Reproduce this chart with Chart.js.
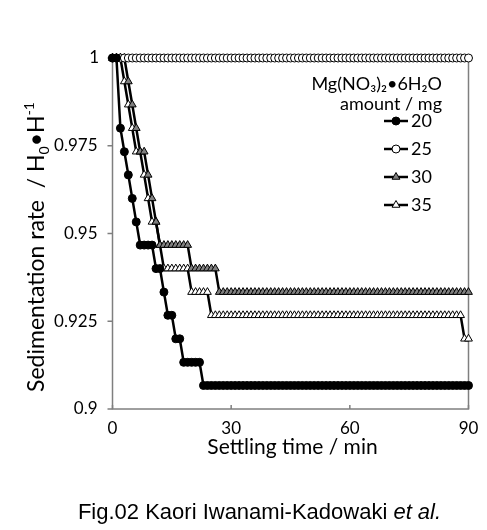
<!DOCTYPE html>
<html lang="en">
<head>
<meta charset="UTF-8">
<title>Sedimentation rate</title>
<script src="https://cdn.jsdelivr.net/npm/chart.js"></script>
<style>
  body { margin: 0; background: #fff; }
  .wrap { position: relative; width: 487px; height: 530px; }
  #caption {
    position: absolute; left: 0; width: 519px; top: 499px;
    text-align: center; color: #000;
    font: 22px "Liberation Sans", Arial, sans-serif;
  }
</style>
</head>
<body>
<div class="wrap">
  <canvas id="chart" width="487" height="530"></canvas>
  <div id="caption">Fig.02 Kaori Iwanami-Kadowaki <i>et al.</i></div>
</div>
<script>
// settling time (min), one reading per minute
const times = [
  0, 1, 2, 3, 4, 5, 6, 7, 8, 9,
  10, 11, 12, 13, 14, 15, 16, 17, 18, 19,
  20, 21, 22, 23, 24, 25, 26, 27, 28, 29,
  30, 31, 32, 33, 34, 35, 36, 37, 38, 39,
  40, 41, 42, 43, 44, 45, 46, 47, 48, 49,
  50, 51, 52, 53, 54, 55, 56, 57, 58, 59,
  60, 61, 62, 63, 64, 65, 66, 67, 68, 69,
  70, 71, 72, 73, 74, 75, 76, 77, 78, 79,
  80, 81, 82, 83, 84, 85, 86, 87, 88, 89,
  90
];

const seriesLabels = ['20', '25', '30', '35'];

const rate20 = [
  1, 1, .98, .9733, .9667, .96, .9533, .9467, .9467, .9467,
  .9467, .94, .94, .9333, .9267, .9267, .92, .92, .9133, .9133,
  .9133, .9133, .9133, .9067, .9067, .9067, .9067, .9067, .9067, .9067,
  .9067, .9067, .9067, .9067, .9067, .9067, .9067, .9067, .9067, .9067,
  .9067, .9067, .9067, .9067, .9067, .9067, .9067, .9067, .9067, .9067,
  .9067, .9067, .9067, .9067, .9067, .9067, .9067, .9067, .9067, .9067,
  .9067, .9067, .9067, .9067, .9067, .9067, .9067, .9067, .9067, .9067,
  .9067, .9067, .9067, .9067, .9067, .9067, .9067, .9067, .9067, .9067,
  .9067, .9067, .9067, .9067, .9067, .9067, .9067, .9067, .9067, .9067,
  .9067
];

const rate25 = [
  1, 1, 1, 1, 1, 1, 1, 1, 1, 1,
  1, 1, 1, 1, 1, 1, 1, 1, 1, 1,
  1, 1, 1, 1, 1, 1, 1, 1, 1, 1,
  1, 1, 1, 1, 1, 1, 1, 1, 1, 1,
  1, 1, 1, 1, 1, 1, 1, 1, 1, 1,
  1, 1, 1, 1, 1, 1, 1, 1, 1, 1,
  1, 1, 1, 1, 1, 1, 1, 1, 1, 1,
  1, 1, 1, 1, 1, 1, 1, 1, 1, 1,
  1, 1, 1, 1, 1, 1, 1, 1, 1, 1,
  1
];

const rate30 = [
  1, 1, 1, 1, .9933, .9867, .98, .9733, .9733, .9667,
  .96, .9533, .9467, .9467, .9467, .9467, .9467, .9467, .9467, .9467,
  .94, .94, .94, .94, .94, .94, .94, .9333, .9333, .9333,
  .9333, .9333, .9333, .9333, .9333, .9333, .9333, .9333, .9333, .9333,
  .9333, .9333, .9333, .9333, .9333, .9333, .9333, .9333, .9333, .9333,
  .9333, .9333, .9333, .9333, .9333, .9333, .9333, .9333, .9333, .9333,
  .9333, .9333, .9333, .9333, .9333, .9333, .9333, .9333, .9333, .9333,
  .9333, .9333, .9333, .9333, .9333, .9333, .9333, .9333, .9333, .9333,
  .9333, .9333, .9333, .9333, .9333, .9333, .9333, .9333, .9333, .9333,
  .9333
];

const rate35 = [
  1, 1, 1, .9933, .9867, .98, .9733, .9733, .9667, .96,
  .9533, .9533, .9467, .94, .94, .94, .94, .94, .94, .94,
  .9333, .9333, .9333, .9333, .9333, .9267, .9267, .9267, .9267, .9267,
  .9267, .9267, .9267, .9267, .9267, .9267, .9267, .9267, .9267, .9267,
  .9267, .9267, .9267, .9267, .9267, .9267, .9267, .9267, .9267, .9267,
  .9267, .9267, .9267, .9267, .9267, .9267, .9267, .9267, .9267, .9267,
  .9267, .9267, .9267, .9267, .9267, .9267, .9267, .9267, .9267, .9267,
  .9267, .9267, .9267, .9267, .9267, .9267, .9267, .9267, .9267, .9267,
  .9267, .9267, .9267, .9267, .9267, .9267, .9267, .9267, .9267, .92,
  .92
];

const xTicks = [0, 30, 60, 90];
const yTicks = [0.9, 0.925, 0.95, 0.975, 1];

const FONT = 'Lato, "Open Sans", sans-serif';

function pts(vals) {
  return vals.map((v, i) => ({ x: times[i], y: v }));
}

function series(label, vals, style, fill) {
  return {
    label: label,
    data: pts(vals),
    borderColor: '#000',
    borderWidth: 2.5,
    pointStyle: style,
    pointRadius: style === 'triangle' ? 4.5 : 4,
    pointBackgroundColor: fill,
    pointBorderColor: '#000',
    pointBorderWidth: 1,
    clip: false
  };
}

// gray frame + short tick marks
const frame = {
  id: 'frame',
  beforeDatasetsDraw(chart) {
    const { ctx, chartArea: a, scales: { x, y } } = chart;
    ctx.save();
    ctx.strokeStyle = '#7f7f7f';
    ctx.lineWidth = 1.5;
    ctx.strokeRect(a.left, a.top, a.right - a.left, a.bottom - a.top);
    ctx.beginPath();
    xTicks.forEach(v => {
      const px = x.getPixelForValue(v);
      ctx.moveTo(px, a.bottom);
      ctx.lineTo(px, a.bottom - 4);
    });
    yTicks.forEach(v => {
      const py = y.getPixelForValue(v);
      ctx.moveTo(a.left - 5, py);
      ctx.lineTo(a.left, py);
    });
    ctx.stroke();
    ctx.restore();
  }
};

// y title with sub/superscript, x title, the lone "1" tick label
const titles = {
  id: 'titles',
  afterDraw(chart) {
    const { ctx, chartArea: a, scales: { y } } = chart;
    ctx.save();
    ctx.fillStyle = '#000';
    ctx.textBaseline = 'middle';

    ctx.textAlign = 'right';
    ctx.font = '17px ' + FONT;
    ctx.fillText('1', 99, y.getPixelForValue(1));

    ctx.textAlign = 'center';
    ctx.font = '21px ' + FONT;
    ctx.fillText('Settling time / min', (a.left + a.right) / 2 + 2, 447);

    const parts = [
      { t: 'Sedimentation rate  / H', size: 23, dy: 0 },
      { t: '0', size: 14, dy: 7 },
      { t: '\u2022H', size: 23, dy: 0 },
      { t: '-1', size: 14, dy: -8 }
    ];
    let total = 0;
    parts.forEach(p => { ctx.font = p.size + 'px ' + FONT; p.w = ctx.measureText(p.t).width; total += p.w; });
    ctx.translate(37, 247);
    ctx.rotate(-Math.PI / 2);
    ctx.textAlign = 'left';
    let cx = -total / 2;
    parts.forEach(p => {
      ctx.font = p.size + 'px ' + FONT;
      ctx.fillText(p.t, cx, p.dy);
      cx += p.w;
    });
    ctx.restore();
  }
};

// legend drawn inside the plot
const insideLegend = {
  id: 'insideLegend',
  afterDatasetsDraw(chart) {
    const ctx = chart.ctx;
    ctx.save();
    ctx.fillStyle = '#000';
    ctx.textBaseline = 'middle';
    ctx.textAlign = 'right';
    ctx.font = '18px ' + FONT;
    ctx.fillText('Mg(NO\u2083)\u2082\u20226H\u2082O', 442, 84);
    ctx.fillText('amount / mg', 442, 104);
    const rows = [121, 149, 177, 205];
    ctx.textAlign = 'left';
    chart.data.datasets.forEach((ds, i) => {
      const yy = rows[i];
      ctx.strokeStyle = '#000';
      ctx.lineWidth = 2.5;
      ctx.beginPath();
      ctx.moveTo(384, yy);
      ctx.lineTo(408, yy);
      ctx.stroke();
      ctx.fillStyle = ds.pointBackgroundColor;
      ctx.strokeStyle = '#000';
      ctx.lineWidth = 1;
      Chart.helpers.drawPoint(ctx, { pointStyle: ds.pointStyle, radius: ds.pointRadius, borderWidth: 1 }, 396, yy);
      ctx.fillStyle = '#000';
      ctx.fillText(seriesLabels[i], 411, yy);
    });
    ctx.restore();
  }
};

new Chart(document.getElementById('chart'), {
  type: 'line',
  data: {
    datasets: [
      series(seriesLabels[0], rate20, 'circle', '#000'),
      series(seriesLabels[1], rate25, 'circle', '#fff'),
      series(seriesLabels[2], rate30, 'triangle', '#808080'),
      series(seriesLabels[3], rate35, 'triangle', '#fff')
    ]
  },
  options: {
    responsive: false,
    animation: false,
    layout: { padding: { top: 58, right: 18.5, bottom: 91, left: 0 } },
    plugins: { legend: { display: false }, tooltip: { enabled: false } },
    elements: { line: { tension: 0 } },
    scales: {
      x: {
        type: 'linear', min: 0, max: 90,
        afterBuildTicks: s => { s.ticks = xTicks.map(v => ({ value: v })); },
        afterFit: s => { s.height = 30; },
        grid: { display: false },
        border: { display: false },
        ticks: { color: '#000', font: { family: FONT, size: 17 }, padding: 1, maxRotation: 0 }
      },
      y: {
        min: 0.9, max: 1,
        afterBuildTicks: s => { s.ticks = yTicks.map(v => ({ value: v })); },
        afterFit: s => { s.width = 112.5; },
        grid: { display: false },
        border: { display: false },
        ticks: {
          color: '#000', font: { family: FONT, size: 17 }, padding: 7,
          callback: v => v === 1 ? '' : String(v)
        }
      }
    }
  },
  plugins: [frame, titles, insideLegend]
});
</script>
</body>
</html>
